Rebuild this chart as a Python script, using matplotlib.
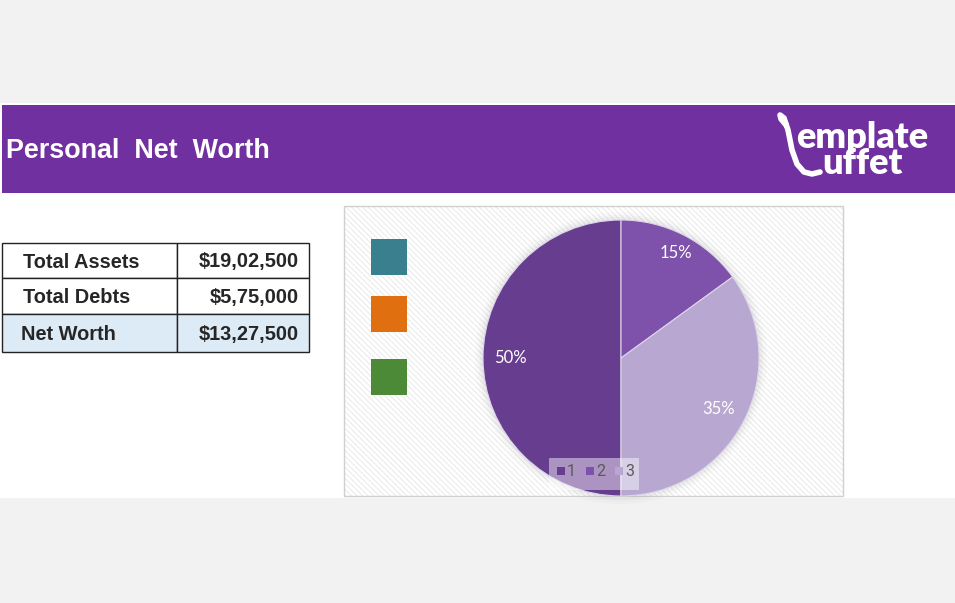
import matplotlib
matplotlib.use("Agg")
import matplotlib.pyplot as plt
from matplotlib.patches import Rectangle, Circle
import matplotlib as mpl

mpl.rcParams['hatch.linewidth'] = 0.6

# ---- data ----
title = "Personal  Net  Worth"
row_labels = ["Total Assets", "Total Debts", "Net Worth"]
row_values = ["$19,02,500", "$5,75,000", "$13,27,500"]
pie_labels = ["1", "2", "3"]
pie_values = [50, 15, 35]
pie_colors = ["#673e8f", "#7e51aa", "#b8a8d1"]
swatch_colors = ["#3a7f8d", "#e0700f", "#4d8a38"]

W, H = 955, 603
fig = plt.figure(figsize=(W / 100, H / 100), dpi=100)
fig.patch.set_facecolor("#f2f2f2")

bg = fig.add_axes([0, 0, 1, 1])
bg.set_xlim(0, W)
bg.set_ylim(H, 0)
bg.axis("off")

# white sheet area
bg.add_patch(Rectangle((0, 103), W, 395, facecolor="white", edgecolor="none"))
# banner
bg.add_patch(Rectangle((2, 105), W - 2, 88, facecolor="#7030a0", edgecolor="none"))
bg.text(6, 151, title, color="white", fontsize=19.4, fontweight="bold",
        family="Liberation Sans", va="center", ha="left")

# logo (one text block, two lines)
bg.text(796, 174, "emplate\nuffet", color="white", fontsize=26, fontweight="heavy",
        family="Lato", va="baseline", ha="left", multialignment="center",
        linespacing=0.75)
bg.plot([786, 781, 780, 784, 788, 792, 797, 804, 812, 820],
        [125, 119, 115, 118, 130, 150, 164, 172, 174, 172],
        color="white", lw=4, solid_capstyle="round", solid_joinstyle="round")

# table
row_tops = [243, 278, 314]
row_h = [35, 36, 38]
for i, (lab, val) in enumerate(zip(row_labels, row_values)):
    y0 = row_tops[i]
    fc = "#ddebf7" if i == 2 else "white"
    bg.add_patch(Rectangle((2, y0), 175, row_h[i], facecolor=fc, edgecolor="#222222", lw=1))
    bg.add_patch(Rectangle((177, y0), 132, row_h[i], facecolor=fc, edgecolor="#222222", lw=1))
    yc = y0 + row_h[i] / 2 + 1.5
    bg.text(23 if i < 2 else 21, yc, lab, fontsize=14.4, fontweight="bold",
            family="Liberation Sans", color="#262626", va="center", ha="left")
    bg.text(299, yc, val, fontsize=14.4, fontweight="bold",
            family="Liberation Sans", color="#262626", va="center", ha="right")

# chart area with hatch
bg.add_patch(Rectangle((344, 206), 499, 290, facecolor="white", edgecolor="none"))
bg.add_patch(Rectangle((344, 206), 499, 290, facecolor="none", edgecolor="#e6e6e6",
                       hatch="\\\\\\\\\\\\", lw=0))
bg.add_patch(Rectangle((344, 206), 499, 290, facecolor="none", edgecolor="#d0d0d0", lw=1))

# swatches
sw_y = [239, 296, 359]
for c, y in zip(swatch_colors, sw_y):
    bg.add_patch(Rectangle((371, y), 36, 36, facecolor=c, edgecolor="none"))

# shadow glow for pie
for r, a in [(146, 0.04), (143, 0.05), (141, 0.06)]:
    bg.add_patch(Circle((621, 358), r, facecolor="#888888", alpha=a, edgecolor="none"))

# pie
cx, cy, R = 621, 358, 138
pax = fig.add_axes([(cx - R) / W, (H - cy - R) / H, 2 * R / W, 2 * R / H])
wedges, texts = pax.pie(pie_values, colors=pie_colors, startangle=-90, counterclock=False,
                        wedgeprops=dict(edgecolor="#ddd5ea", linewidth=0.8))
pax.set_aspect("auto")
pax.set_xlim(-1, 1)
pax.set_ylim(-1, 1)
pax.axis("off")

lab_pos = [(-0.8, 0.0), (0.4, 0.76), (0.71, -0.37)]
for v, (x, y) in zip(pie_values, lab_pos):
    pax.text(x, y, f"{v}%", color="white", fontsize=12, family="Lato",
             ha="center", va="center")

# legend (overlay axes on top of pie)
lg = fig.add_axes([0, 0, 1, 1], zorder=10)
lg.set_xlim(0, W)
lg.set_ylim(H, 0)
lg.axis("off")
lg.patch.set_alpha(0)
lg.add_patch(Rectangle((549, 458), 90, 32, facecolor="white", alpha=0.45, edgecolor="none"))
lx = [561, 590, 619]
for x, c, l in zip(lx, pie_colors, pie_labels):
    lg.add_patch(Rectangle((x - 4, 467), 8, 8, facecolor=c, edgecolor="none"))
    lg.text(x + 6, 471, l, fontsize=11.5, color="#595959", family="Roboto",
            va="center", ha="left")

fig.savefig("out.png", dpi=100, facecolor=fig.get_facecolor())
